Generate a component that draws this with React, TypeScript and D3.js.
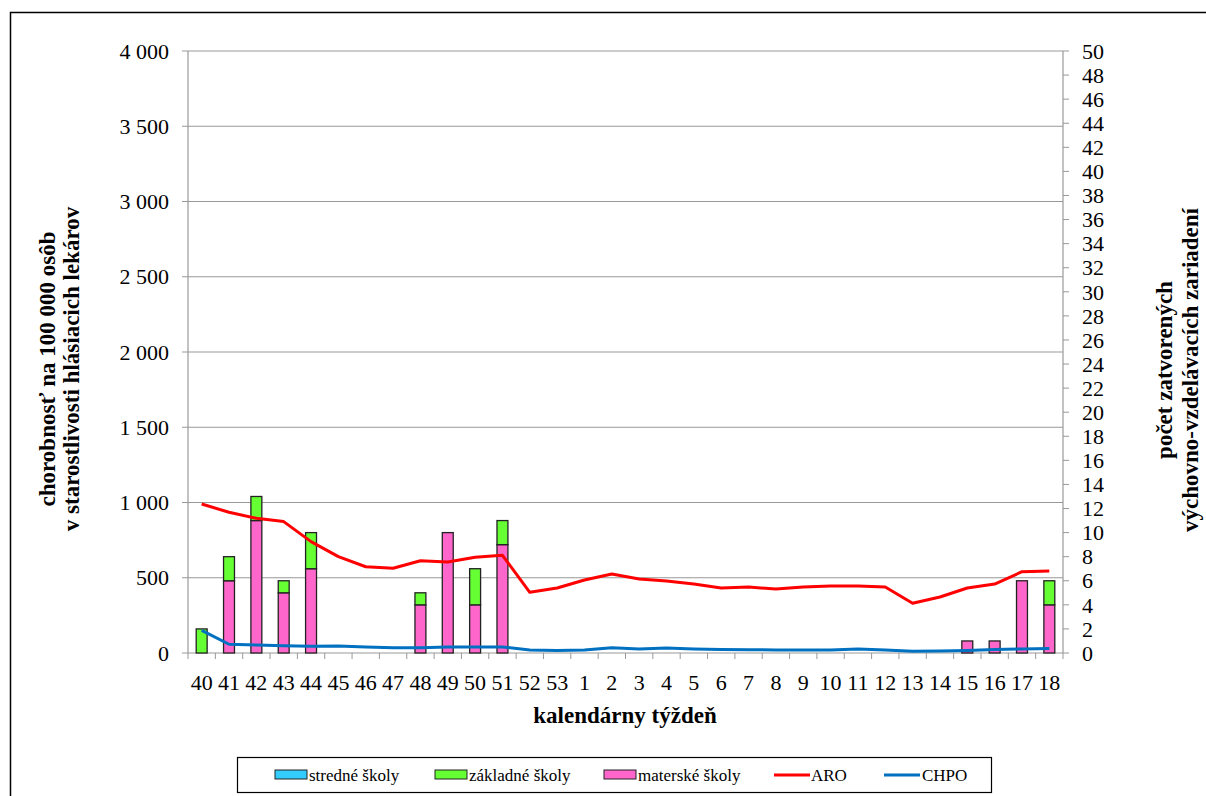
import React from "react";
import * as d3 from "d3";

const weeks = ["40","41","42","43","44","45","46","47","48","49","50","51","52","53","1","2","3","4","5","6","7","8","9","10","11","12","13","14","15","16","17","18"];
const stredne = [0,0,0,0,0,0,0,0,0,0,0,0,0,0,0,0,0,0,0,0,0,0,0,0,0,0,0,0,0,0,0,0];
const zakladne = [2,2,2,1,3,0,0,0,1,0,3,2,0,0,0,0,0,0,0,0,0,0,0,0,0,0,0,0,0,0,0,2];
const materske = [0,6,11,5,7,0,0,0,4,10,4,9,0,0,0,0,0,0,0,0,0,0,0,0,0,0,0,0,1,1,6,4];
const aro = [990,935,895,873,740,640,573,563,613,605,636,649,403,432,485,525,492,478,458,432,438,425,438,445,445,438,330,372,432,458,540,545];
const chpo = [150,58,53,48,45,47,40,35,35,40,40,40,20,17,20,35,27,33,27,23,22,20,20,20,27,20,12,13,17,23,27,30];
const leftTicks = [0,500,1000,1500,2000,2500,3000,3500,4000];
const rightTicks = d3.range(0, 51, 2);

const FONT = "Liberation Serif, DejaVu Serif, serif";

export default function App() {
  const L = 188, R = 1063, T = 51, B = 653;
  const x = d3.scaleBand<string>().domain(weeks).range([L, R]).padding(0);
  const yL = d3.scaleLinear().domain([0, 4000]).range([B, T]);
  const yR = d3.scaleLinear().domain([0, 50]).range([B, T]);
  const bw = x.bandwidth() * 0.4;
  const cx = (w: string) => (x(w) as number) + x.bandwidth() / 2;
  const fmt = (v: number) => d3.format(",")(v).replace(/,/g, " ");
  const line = d3.line<number>().x((_, i) => cx(weeks[i])).y((v) => yL(v));
  const gridCol = "#999";

  const bars: any[] = [];
  weeks.forEach((w, i) => {
    const segs = [
      { v: stredne[i], c: "#33CCFF" },
      { v: materske[i], c: "#FF66CC" },
      { v: zakladne[i], c: "#66FF33" },
    ];
    let base = 0;
    segs.forEach((s, j) => {
      if (s.v > 0) {
        bars.push(
          <rect key={w + "-" + j} x={cx(w) - bw / 2} y={yR(base + s.v)} width={bw}
            height={yR(base) - yR(base + s.v)} fill={s.c} stroke="#222" strokeWidth={1.3} />
        );
      }
      base += s.v;
    });
  });

  return (
    <svg width={1206} height={796} style={{ position: "absolute", left: 0, top: 0, background: "#fff", fontFamily: FONT }}>
      <rect x={10.5} y={12.5} width={1220} height={800} fill="#fff" stroke="#000" strokeWidth={1.5} />
      {leftTicks.map((t) => (
        <g key={"l" + t}>
          {t > 0 && <line x1={L} x2={R} y1={yL(t)} y2={yL(t)} stroke={gridCol} strokeWidth={1} />}
          <line x1={L - 6} x2={L} y1={yL(t)} y2={yL(t)} stroke={gridCol} strokeWidth={1} />
          <text x={169} y={yL(t)} dy="0.35em" textAnchor="end" fontSize={22}>{fmt(t)}</text>
        </g>
      ))}
      {rightTicks.map((t) => (
        <g key={"r" + t}>
          <line x1={R} x2={R + 6} y1={yR(t)} y2={yR(t)} stroke={gridCol} strokeWidth={1} />
          <text x={1082} y={yR(t)} dy="0.35em" textAnchor="start" fontSize={22}>{t}</text>
        </g>
      ))}
      <line x1={L} x2={L} y1={T} y2={B} stroke={gridCol} strokeWidth={1.2} />
      <line x1={R} x2={R} y1={T} y2={B} stroke={gridCol} strokeWidth={1.2} />
      <line x1={L} x2={R} y1={B} y2={B} stroke={gridCol} strokeWidth={1.2} />
      {weeks.map((w) => (
        <line key={"xt" + w} x1={x(w)} x2={x(w)} y1={B} y2={B + 6} stroke={gridCol} strokeWidth={1} />
      ))}
      <line x1={R} x2={R} y1={B} y2={B + 6} stroke={gridCol} strokeWidth={1} />
      {bars}
      <path d={line(aro) || ""} fill="none" stroke="#FF0000" strokeWidth={3} strokeLinejoin="round" />
      <path d={line(chpo) || ""} fill="none" stroke="#0070C0" strokeWidth={3} strokeLinejoin="round" />
      {weeks.map((w) => (
        <text key={"xl" + w} x={cx(w)} y={682} dy="0.35em" textAnchor="middle" fontSize={22}>{w}</text>
      ))}
      <text x={625} y={715} dy="0.35em" textAnchor="middle" fontSize={23} fontWeight="bold">kalendárny týždeň</text>
      <text transform="translate(47,369) rotate(-90)" textAnchor="middle" dy="0.35em" fontSize={23} fontWeight="bold">chorobnosť na 100 000 osôb</text>
      <text transform="translate(71,369) rotate(-90)" textAnchor="middle" dy="0.35em" fontSize={23} fontWeight="bold">v starostlivosti hlásiacich lekárov</text>
      <text transform="translate(1164,370) rotate(-90)" textAnchor="middle" dy="0.35em" fontSize={23} fontWeight="bold">počet zatvorených</text>
      <text transform="translate(1190,370) rotate(-90)" textAnchor="middle" dy="0.35em" fontSize={23} fontWeight="bold">výchovno-vzdelávacích zariadení</text>
      <rect x={237.5} y={757.5} width={754} height={35} fill="#fff" stroke="#000" strokeWidth={1.2} />
      <g fontSize={17}>
        <rect x={275} y={770} width={32} height={9} fill="#33CCFF" stroke="#222" strokeWidth={1} />
        <text x={309} y={775} dy="0.35em">stredné školy</text>
        <rect x={435} y={770} width={32} height={9} fill="#66FF33" stroke="#222" strokeWidth={1} />
        <text x={469} y={775} dy="0.35em">základné školy</text>
        <rect x={604} y={770} width={32} height={9} fill="#FF66CC" stroke="#222" strokeWidth={1} />
        <text x={638} y={775} dy="0.35em">materské školy</text>
        <line x1={774} x2={810} y1={775} y2={775} stroke="#FF0000" strokeWidth={3} />
        <text x={811} y={775} dy="0.35em">ARO</text>
        <line x1={884} x2={920} y1={775} y2={775} stroke="#0070C0" strokeWidth={3} />
        <text x={922} y={775} dy="0.35em">CHPO</text>
      </g>
    </svg>
  );
}
